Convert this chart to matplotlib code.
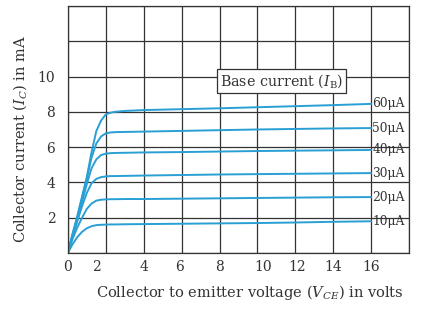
import numpy as np
import matplotlib
matplotlib.use("Agg")
import matplotlib.pyplot as plt

plt.rcParams['font.family'] = 'DejaVu Serif'
plt.rcParams['mathtext.fontset'] = 'dejavuserif'

# collector-emitter voltage (V) where the curves were read
vce = [0, 0.25, 0.5, 0.75, 1.0, 1.25, 1.5, 1.75, 2.0, 2.25, 2.5, 3, 4, 6, 8, 10, 12, 14, 16]

# collector current (mA) for each base current
ic_10 = [0, 0.5, 0.9, 1.2, 1.4, 1.52, 1.58, 1.6, 1.61, 1.62, 1.62, 1.63, 1.64, 1.66, 1.68, 1.7, 1.73, 1.77, 1.8]
ic_20 = [0, 0.8, 1.45, 2.0, 2.5, 2.8, 2.97, 3.02, 3.04, 3.05, 3.05, 3.06, 3.06, 3.08, 3.1, 3.12, 3.14, 3.16, 3.17]
ic_30 = [0, 0.95, 1.8, 2.65, 3.4, 3.95, 4.2, 4.3, 4.34, 4.36, 4.36, 4.37, 4.39, 4.42, 4.45, 4.47, 4.49, 4.51, 4.53]
ic_40 = [0, 1.0, 1.9, 2.9, 3.9, 4.8, 5.3, 5.55, 5.63, 5.66, 5.67, 5.68, 5.7, 5.72, 5.75, 5.78, 5.8, 5.82, 5.84]
ic_50 = [0, 1.05, 2.0, 3.1, 4.2, 5.4, 6.2, 6.6, 6.78, 6.83, 6.85, 6.86, 6.88, 6.92, 6.96, 7.0, 7.03, 7.06, 7.08]
ic_60 = [0, 1.1, 2.1, 3.2, 4.3, 5.7, 6.9, 7.5, 7.85, 7.95, 8.0, 8.05, 8.1, 8.15, 8.2, 8.26, 8.32, 8.38, 8.45]

curves = [ic_10, ic_20, ic_30, ic_40, ic_50, ic_60]
curve_labels = ["10μA", "20μA", "30μA", "40μA", "50μA", "60μA"]

xtick_pos = [0, 1.5, 4, 5.9, 8, 10.3, 12.1, 14, 16]
xtick_lab = ["0", "2", "4", "6", "8", "10", "12", "14", "16"]
ytick_pos = [2, 4, 6, 8, 10]

fig = plt.figure(figsize=(4.32, 3.12), dpi=100)
ax = fig.add_axes([0.157, 0.189, 0.79, 0.792])

line_color = "#2a9fd4"
for ic, lab in zip(curves, curve_labels):
    ax.plot(vce, ic, color=line_color, lw=1.4, solid_capstyle="round")
    ax.text(16.05, ic[-1], lab, fontsize=8.8, va="center", ha="left",
            color="#333333", family="DejaVu Serif")

ax.set_xlim(0, 18)
ax.set_ylim(0, 14)

ax.xaxis.remove_overlapping_locs = False
ax.yaxis.remove_overlapping_locs = False
ax.set_xticks(np.arange(0, 19, 2), minor=True)
ax.set_yticks(np.arange(0, 15, 2), minor=True)
ax.grid(which="minor", color="#333333", lw=0.9)
ax.grid(which="major", visible=False)
ax.set_axisbelow(True)

ax.set_xticks(xtick_pos)
ax.set_xticklabels(xtick_lab, fontsize=10, color="#333333")
ax.set_yticks(ytick_pos)
ax.set_yticklabels([str(v) for v in ytick_pos], fontsize=10, color="#333333")
ax.tick_params(which="both", length=0)
ax.tick_params(axis="x", pad=5)
ax.tick_params(axis="y", pad=9)

for s in ax.spines.values():
    s.set_color("#333333")
    s.set_linewidth(0.9)

ax.text(11.27, 9.75, r"Base current ($I_{\rm B}$)", fontsize=10.3, ha="center", va="center",
        color="#333333",
        bbox=dict(boxstyle="square,pad=0.2", fc="white", ec="#333333", lw=0.9))

fig.text(250 / 432, 1 - 292 / 312, r"Collector to emitter voltage ($V_{CE}$) in volts",
         fontsize=10.5, ha="center", va="center", color="#333333")
fig.text(20 / 432, 1 - 139 / 312, r"Collector current ($I_C$) in mA",
         fontsize=10.5, ha="center", va="center", rotation=90, color="#333333")

fig.savefig("out.png", dpi=100)
